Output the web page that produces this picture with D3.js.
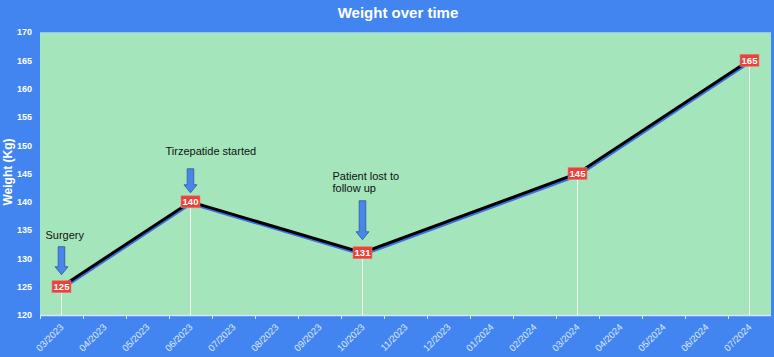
<!DOCTYPE html>
<html>
<head>
<meta charset="utf-8">
<script src="https://cdn.jsdelivr.net/npm/d3@7"></script>
<style>
  body { margin: 0; background: #4285f0; }
  svg { display: block; font-family: "Liberation Sans", Arial, sans-serif; }
</style>
</head>
<body>
<div id="container"></div>
<script>
let w = 774;
let h = 357;

// months on the x axis
let months = ["03/2023", "04/2023", "05/2023", "06/2023", "07/2023", "08/2023", "09/2023",
  "10/2023", "11/2023", "12/2023", "01/2024", "02/2024", "03/2024", "04/2024",
  "05/2024", "06/2024", "07/2024"];
// measured weights
let visitMonths = ["03/2023", "06/2023", "10/2023", "03/2024", "07/2024"];
let weights = [125, 140, 131, 145, 165];
// y ticks
let yTicks = [120, 125, 130, 135, 140, 145, 150, 155, 160, 165, 170];
// notes
let noteMonths = ["03/2023", "06/2023", "10/2023"];
let noteTexts = [["Surgery"], ["Tirzepatide started"], ["Patient lost to", "follow up"]];

let plotLeft = 40, plotRight = 771, plotTop = 32, plotBottom = 315;

let viz = d3.select("#container")
  .append("svg")
    .attr("width", w)
    .attr("height", h)
;

viz.append("rect").attr("width", w).attr("height", h).attr("fill", "#4285f0");

let xScale = d3.scaleBand().domain(months).range([plotLeft, plotRight]);
let yScale = d3.scaleLinear().domain([120, 170]).range([plotBottom, plotTop]);

// plot area
viz.append("rect")
  .attr("x", plotLeft).attr("y", plotTop)
  .attr("width", plotRight - plotLeft).attr("height", plotBottom - plotTop)
  .attr("fill", "#a4e5bb");
viz.append("line")
  .attr("x1", plotLeft).attr("x2", plotRight).attr("y1", plotTop + 0.5).attr("y2", plotTop + 0.5)
  .attr("stroke", "#8fc6f0").attr("stroke-width", 1);

// title
viz.append("text")
  .text("Weight over time")
  .attr("x", 398).attr("y", 18)
  .attr("text-anchor", "middle")
  .attr("font-size", "15px").attr("font-weight", "bold")
  .attr("fill", "white");

// y axis
let yAxis = d3.axisLeft(yScale).tickValues(yTicks).tickSize(0).tickPadding(8);
let yAxisGroup = viz.append("g").attr("class", "yaxis")
  .attr("transform", "translate(" + plotLeft + ", 0)")
  .call(yAxis);
yAxisGroup.select(".domain").remove();
yAxisGroup.selectAll("text")
  .attr("fill", "white").attr("font-size", "9px").attr("font-weight", "bold")
  .attr("font-family", "Liberation Sans, Arial, sans-serif");

viz.append("text")
  .text("Weight (Kg)")
  .attr("transform", "translate(12, 172) rotate(-90)")
  .attr("text-anchor", "middle")
  .attr("font-size", "12px").attr("font-weight", "bold")
  .attr("fill", "white");

// x axis: ticks at band edges, labels at band centres
let xAxisGroup = viz.append("g").attr("class", "xaxis");
xAxisGroup.append("line")
  .attr("x1", plotLeft).attr("x2", plotRight).attr("y1", plotBottom + 0.5).attr("y2", plotBottom + 0.5)
  .attr("stroke", "#d8e6f5").attr("stroke-width", 1.5);
xAxisGroup.selectAll(".tick").data(months).enter()
  .append("line")
    .attr("x1", function(d){ return xScale(d) + 0.5; })
    .attr("x2", function(d){ return xScale(d) + 0.5; })
    .attr("y1", plotBottom).attr("y2", plotBottom + 4)
    .attr("stroke", "#d8e6f5");
xAxisGroup.selectAll(".lab").data(months).enter()
  .append("text")
    .text(function(d){ return d; })
    .attr("transform", function(d){
      let x = xScale(d) + xScale.bandwidth() / 2 + 1;
      return "translate(" + x + ", " + (plotBottom + 11) + ") rotate(-45)";
    })
    .attr("text-anchor", "end")
    .attr("dominant-baseline", "middle")
    .attr("font-size", "9.5px")
    .attr("fill", "#dfe8fb");

// data
let points = visitMonths.map(function(m, i){ return { month: m, value: weights[i] }; });
function px(d){ return xScale(d.month) + xScale.bandwidth() / 2; }
function py(d){ return yScale(d.value); }

let boxW = 19, boxH = 12;

// drop lines
viz.selectAll(".drop").data(points).enter()
  .append("line")
    .attr("x1", px).attr("x2", px)
    .attr("y1", function(d){ return py(d) + boxH / 2; })
    .attr("y2", plotBottom)
    .attr("stroke", "white").attr("stroke-width", 1).attr("opacity", 0.85);

let line = d3.line().x(px).y(py);
viz.append("path").datum(points)
  .attr("d", line)
  .attr("transform", "translate(0.5, 1.8)")
  .attr("fill", "none").attr("stroke", "#3d6fe6").attr("stroke-width", 3);
viz.append("path").datum(points)
  .attr("d", line)
  .attr("fill", "none").attr("stroke", "black").attr("stroke-width", 3);

let labels = viz.selectAll(".datagroup").data(points).enter()
  .append("g")
    .attr("class", "datagroup")
    .attr("transform", function(d){ return "translate(" + px(d) + ", " + py(d) + ")"; });
labels.append("rect")
  .attr("x", -boxW / 2).attr("y", -boxH / 2)
  .attr("width", boxW).attr("height", boxH)
  .attr("fill", "#e8423a").attr("stroke", "#f27a72").attr("stroke-width", 0.6);
labels.append("text")
  .text(function(d){ return d.value; })
  .attr("y", 3.5)
  .attr("text-anchor", "middle")
  .attr("font-size", "9.5px").attr("font-weight", "bold")
  .attr("fill", "white");

// annotations: text offset from point, arrow top / bottom offset from point
let noteLayout = [
  { dx: -16, dy: -48, a1: -40, a2: -12 },
  { dx: -25, dy: -47, a1: -33, a2: -9 },
  { dx: -30, dy: -73, a1: -52, a2: -13 }
];
noteMonths.forEach(function(m, i){
  let d = points.find(function(p){ return p.month == m; });
  let x = px(d), y = py(d), L = noteLayout[i];
  let t = viz.append("text")
    .attr("x", x + L.dx).attr("y", y + L.dy)
    .attr("font-size", "11px").attr("fill", "#111");
  noteTexts[i].forEach(function(s, j){
    t.append("tspan").attr("x", x + L.dx).attr("dy", j == 0 ? 0 : 12.5).text(s);
  });
  let y1 = y + L.a1, y2 = y + L.a2, hw = 6.5, sw = 3.3, hh = 8;
  let pts = [[x - sw, y1], [x + sw, y1], [x + sw, y2 - hh], [x + hw, y2 - hh], [x, y2],
    [x - hw, y2 - hh], [x - sw, y2 - hh]];
  viz.append("path")
    .attr("d", "M" + pts.join("L") + "Z")
    .attr("fill", "#4a86e8").attr("stroke", "#2b58a8").attr("stroke-width", 0.8);
});
</script>
</body>
</html>
